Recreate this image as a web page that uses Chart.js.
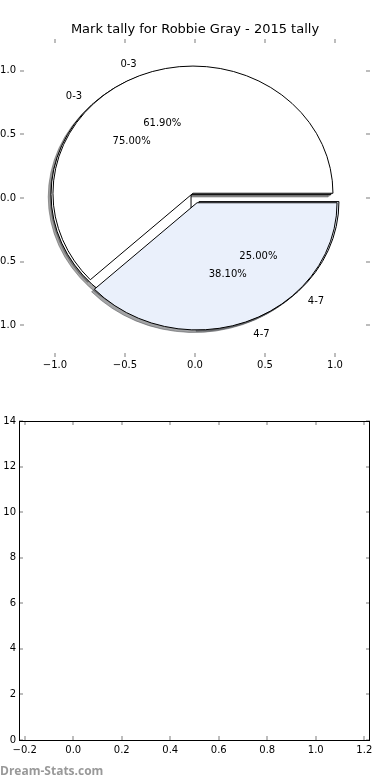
<!DOCTYPE html>
<html>
<head>
<meta charset="utf-8">
<script src="https://cdn.jsdelivr.net/npm/chart.js@4.4.1/dist/chart.umd.min.js"></script>
<style>
  html, body { margin: 0; padding: 0; background: #fff; }
  #page { position: relative; width: 390px; height: 780px; overflow: hidden; }
  .box { position: absolute; left: 0; width: 390px; height: 390px; }
  #topBox { top: 0; }
  #bottomBox { top: 390px; }
  #mark { position: absolute; left: 0; top: 762px; font: bold 12px "Open Sans", sans-serif; color: #999; }
</style>
</head>
<body>
<div id="page">
  <div class="box" id="topBox"><canvas id="pieChart" width="390" height="390"></canvas></div>
  <div class="box" id="bottomBox"><canvas id="emptyChart" width="390" height="390"></canvas></div>
  <div id="mark">Dream-Stats.com</div>
</div>
<script>
// data
const categories = ['0-3', '4-7'];
const underValues = [75.0, 25.0];   // drawn first, mostly hidden
const topValues = [61.9, 38.1];
const sliceColors = ['#ffffff', '#eaf0fb'];
const pieTicks = [-1.0, -0.5, 0.0, 0.5, 1.0];
const lowerXTicks = [-0.2, 0.0, 0.2, 0.4, 0.6, 0.8, 1.0, 1.2];
const lowerYTicks = [0, 2, 4, 6, 8, 10, 12, 14];
const titleText = 'Mark tally for Robbie Gray - 2015 tally';

const explode = 0.04;
const FONT = '"DejaVu Sans", sans-serif';

Chart.defaults.font.family = FONT;
Chart.defaults.color = '#000';

function fmtTick(v) {
    return (v < 0 ? '\u2212' : '') + Math.abs(v).toFixed(1);
}

// wedge geometry (angles in data space, ccw from east)
function wedgesOf(values) {
    const total = values.reduce((a, b) => a + b, 0);
    let start = 0;
    return values.map((v, i) => {
        const sweep = v / total * 2 * Math.PI;
        const mid = start + sweep / 2;
        const w = {
            i: i, pct: v / total * 100, t1: start, t2: start + sweep, mid: mid,
            ox: explode * Math.cos(mid), oy: explode * Math.sin(mid)
        };
        start += sweep;
        return w;
    });
}

function wedgePath(ctx, xs, ys, w, dx, dy) {
    const cx = xs.getPixelForValue(w.ox + dx);
    const cy = ys.getPixelForValue(w.oy + dy);
    const rx = xs.getPixelForValue(w.ox + dx + 1) - cx;
    const ry = cy - ys.getPixelForValue(w.oy + dy + 1);
    ctx.beginPath();
    ctx.moveTo(cx, cy);
    ctx.ellipse(cx, cy, rx, ry, 0, -w.t1, -w.t2, true);
    ctx.closePath();
}

function shade(hex) {
    const n = parseInt(hex.slice(1), 16);
    const r = Math.round(((n >> 16) & 255) * 0.3), g = Math.round(((n >> 8) & 255) * 0.3), b = Math.round((n & 255) * 0.3);
    return 'rgba(' + r + ',' + g + ',' + b + ',0.5)';
}

const piePlugin = {
    id: 'piePlugin',
    afterDatasetsDraw(chart) {
        const { ctx, chartArea: a, scales: { x, y } } = chart;
        const pies = [wedgesOf(underValues), wedgesOf(topValues)];
        ctx.save();
        // shadows go under every wedge
        pies.forEach(p => p.forEach(w => {
            wedgePath(ctx, x, y, w, -0.02, -0.02);
            ctx.fillStyle = shade(sliceColors[w.i]);
            ctx.fill();
            ctx.strokeStyle = ctx.fillStyle;
            ctx.lineWidth = 1;
            ctx.stroke();
        }));
        pies.forEach(p => p.forEach(w => {
            wedgePath(ctx, x, y, w, 0, 0);
            ctx.fillStyle = sliceColors[w.i];
            ctx.fill();
            ctx.strokeStyle = '#000';
            ctx.lineWidth = 1;
            ctx.stroke();
        }));
        // labels
        ctx.font = '10px ' + FONT;
        ctx.fillStyle = '#000';
        ctx.textBaseline = 'middle';
        pies.forEach(p => p.forEach(w => {
            const lx = w.ox + 1.1 * Math.cos(w.mid), ly = w.oy + 1.1 * Math.sin(w.mid);
            ctx.textAlign = lx > 0 ? 'left' : 'right';
            ctx.fillText(categories[w.i], x.getPixelForValue(lx), y.getPixelForValue(ly) + 1);
            const px = w.ox + 0.6 * Math.cos(w.mid), py = w.oy + 0.6 * Math.sin(w.mid);
            ctx.textAlign = 'center';
            ctx.fillText(w.pct.toFixed(2) + '%', x.getPixelForValue(px), y.getPixelForValue(py) + 1);
        }));
        // title centred over the axes
        ctx.font = '13px ' + FONT;
        ctx.textAlign = 'center';
        ctx.fillText(titleText, (a.left + a.right) / 2, 30);
        ctx.restore();
    }
};

// inward tick marks on all four sides, optional frame
const innerTicks = {
    id: 'innerTicks',
    afterDraw(chart, args, opts) {
        const { ctx, chartArea: a, scales: { x, y } } = chart;
        ctx.save();
        ctx.fillStyle = '#bdbdbd';
        x.ticks.forEach(t => {
            const px = Math.round(x.getPixelForValue(t.value));
            ctx.fillRect(px - 1, a.top, 2, 4);
            ctx.fillRect(px - 1, a.bottom - 4, 2, 4);
        });
        y.ticks.forEach(t => {
            const py = Math.round(y.getPixelForValue(t.value));
            ctx.fillRect(a.left, py - 1, 4, 2);
            ctx.fillRect(a.right - 4, py - 1, 4, 2);
        });
        if (opts.frame) {
            ctx.strokeStyle = '#000';
            ctx.lineWidth = 1;
            ctx.strokeRect(Math.round(a.left) + 0.5, Math.round(a.top) + 0.5,
                Math.round(a.right - a.left) - 1, Math.round(a.bottom - a.top));
        }
        ctx.restore();
    }
};

function axis(min, max, ticks, pad, fmt, extra) {
    return Object.assign({
        type: 'linear', min: min, max: max,
        grid: { display: false, drawTicks: false },
        border: { display: false },
        afterBuildTicks: s => { s.ticks = ticks.map(v => ({ value: v })); },
        ticks: { font: { size: 10 }, color: '#000', padding: pad, callback: fmt, maxRotation: 0, autoSkip: false }
    }, extra);
}

new Chart(document.getElementById('pieChart'), {
    type: 'scatter',
    data: { datasets: [{ data: [] }] },
    plugins: [piePlugin, innerTicks],
    options: {
        responsive: false, animation: false, devicePixelRatio: 1,
        layout: { padding: { left: 0, right: 20, top: 39, bottom: 0 } },
        plugins: {
            legend: { display: false }, tooltip: { enabled: false }, title: { display: false },
            innerTicks: { frame: false }
        },
        scales: {
            x: axis(-1.25, 1.25, pieTicks, 2, fmtTick, { afterFit: s => { s.height = 33; } }),
            y: axis(-1.25, 1.25, pieTicks, 4, fmtTick, { afterFit: s => { s.width = 20; } })
        }
    }
});

new Chart(document.getElementById('emptyChart'), {
    type: 'scatter',
    data: { datasets: [{ data: [] }] },
    plugins: [innerTicks],
    options: {
        responsive: false, animation: false, devicePixelRatio: 1,
        layout: { padding: { left: 0, right: 20, top: 31, bottom: 0 } },
        plugins: { legend: { display: false }, tooltip: { enabled: false }, innerTicks: { frame: true } },
        scales: {
            x: axis(-0.2235, 1.2235, lowerXTicks, 4, fmtTick, { afterFit: s => { s.height = 40; } }),
            y: axis(0, 14, lowerYTicks, 3, v => String(v), { afterFit: s => { s.width = 19; } })
        }
    }
});
</script>
</body>
</html>
